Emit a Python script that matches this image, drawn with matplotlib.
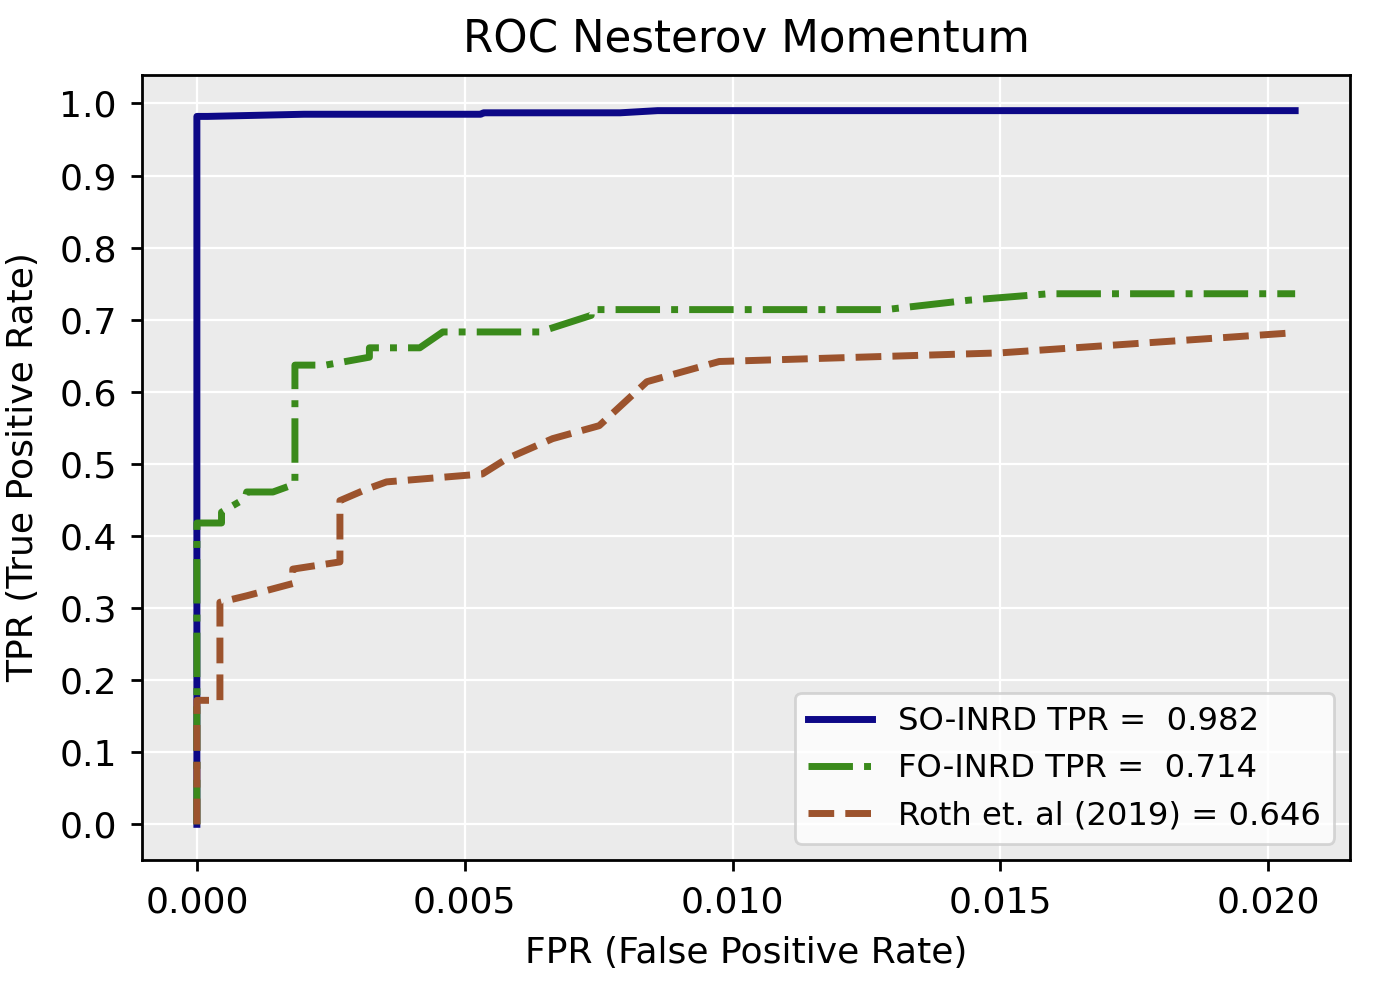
import numpy as np
import matplotlib
matplotlib.use("Agg")
import matplotlib.pyplot as plt

# Datos

fpr_so = [0, 0, 0.0002, 0.002, 0.0053, 0.00535, 0.0079, 0.0086, 0.0205]
tpr_so = [0, 0.982, 0.982, 0.985, 0.985, 0.987, 0.987, 0.990, 0.990]

fpr_fo = [0, 0, 0.00046, 0.00046, 0.0009, 0.00093, 0.00142, 0.00183, 0.00183,
          0.0024, 0.00322, 0.00322, 0.00416, 0.00459, 0.0064, 0.00736, 0.00736,
          0.01286, 0.0144, 0.0159, 0.0205]
tpr_fo = [0, 0.418, 0.418, 0.433, 0.452, 0.461, 0.461, 0.472, 0.637,
          0.637, 0.648, 0.661, 0.661, 0.683, 0.683, 0.706, 0.714,
          0.714, 0.727, 0.736, 0.736]

fpr_roth = [0, 0, 0.00043, 0.00043, 0.00093, 0.00179, 0.00179, 0.00267, 0.00267,
            0.00317, 0.00354, 0.00533, 0.00578, 0.00664, 0.00751, 0.0084,
            0.00975, 0.0150, 0.0205]
tpr_roth = [0, 0.172, 0.172, 0.308, 0.317, 0.334, 0.354, 0.364, 0.449,
            0.465, 0.475, 0.486, 0.507, 0.535, 0.553, 0.614,
            0.642, 0.654, 0.682]

etiquetas = ["SO-INRD TPR =  0.982", "FO-INRD TPR =  0.714", "Roth et. al (2019) = 0.646"]


fig = plt.figure(figsize=(6.905, 4.925), dpi=200)
ax = fig.add_axes([0.1028, 0.1269, 0.8748, 0.7970])
ax.set_facecolor("#EBEBEB")
ax.grid(True, color="white", linewidth=0.8)
ax.set_axisbelow(True)

ax.plot(fpr_so, tpr_so, color="#0d0887", linewidth=2.5, label=etiquetas[0])
ax.plot(fpr_fo, tpr_fo, color="#3a8a1b", linewidth=2.5, linestyle="-.", label=etiquetas[1])
ax.plot(fpr_roth, tpr_roth, color="#9c532d", linewidth=2.5, linestyle="--", label=etiquetas[2])

ax.set_xticks([0.0, 0.005, 0.010, 0.015, 0.020])
ax.set_yticks(np.arange(0, 1.01, 0.1))
ax.tick_params(labelsize=13, width=1.0, length=4, pad=5)
for s in ax.spines.values():
    s.set_linewidth(1.0)

ax.set_title("ROC Nesterov Momentum", fontsize=15.7, pad=8)
ax.set_xlabel("FPR (False Positive Rate)", fontsize=13, labelpad=6)
ax.set_ylabel("TPR (True Positive Rate)", fontsize=13, labelpad=7)
ax.legend(loc="lower right", fontsize=11.6)

fig.savefig("out.png", dpi=200)
